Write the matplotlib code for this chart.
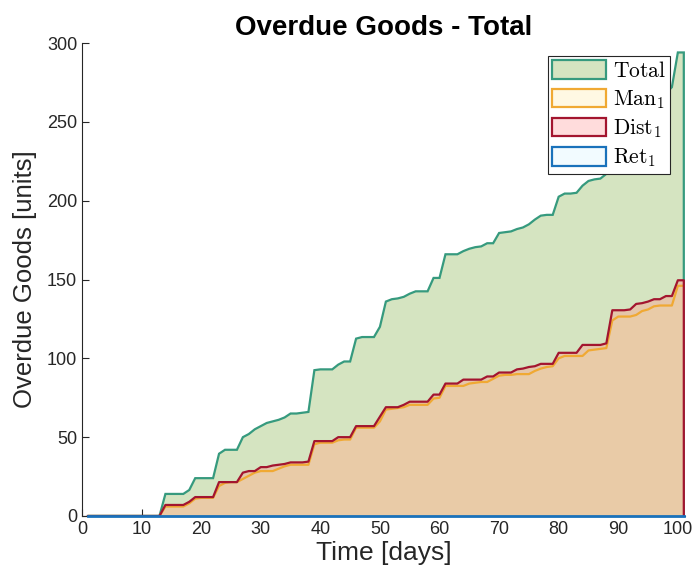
import matplotlib
matplotlib.use('Agg')
import matplotlib.pyplot as plt
from matplotlib.patches import Patch
import numpy as np

# days 1..101
days = np.arange(1, 102)

total = [0] * 13 + [
    14, 14, 14, 14, 16.5, 24, 24, 24, 24, 39.5,
    42, 42, 42, 50, 52, 55, 57, 59, 60, 61,
    62.5, 65, 65, 65.5, 66, 92.5, 93, 93, 93, 96,
    98, 98, 112.5, 113.5, 113.5, 113.5, 120, 136, 137.5, 138,
    139, 141, 142.5, 142.5, 142.5, 151, 151, 166, 166, 166,
    168, 169.5, 170.5, 171, 173, 173, 179.5, 180, 180.5, 182,
    183, 185, 188, 190.5, 191, 191, 202.5, 204.5, 204.5, 205,
    209.5, 212.5, 213.5, 214, 217, 222, 228, 233, 238, 243,
    248, 253, 258, 263, 268, 272, 294, 294,
]

dist = [0] * 13 + [
    7, 7, 7, 7, 9, 12, 12, 12, 12, 21.5,
    21.5, 21.5, 21.5, 27.5, 28.5, 28.5, 31, 31, 32, 32.5,
    33, 34, 34, 34, 34.5, 47.5, 47.5, 47.5, 47.5, 50,
    50, 50, 57, 57, 57, 57, 63, 69, 69, 69,
    70.5, 72.5, 72.5, 72.5, 72.5, 77, 77, 84, 84, 84,
    86.5, 86.5, 86.5, 86.5, 88.5, 88.5, 91, 91, 91, 93,
    93.5, 94.5, 95, 96.5, 96.5, 96.5, 103.5, 103.5, 103.5, 103.5,
    108.5, 108.5, 108.5, 108.5, 109.5, 130.5, 130.5, 130.5, 131, 134.5,
    135, 136, 137.5, 137.5, 139.5, 139.5, 149.5, 149.5,
]

man = [0] * 13 + [
    6, 6, 6, 6, 8, 11, 11.5, 11.5, 11.5, 19,
    21, 21.5, 21.5, 23.5, 25.5, 27.5, 28.5, 28.5, 28.5, 30,
    31.5, 32.5, 32.5, 32.5, 32.5, 45.5, 46.5, 46.5, 46.5, 48,
    48.5, 48.5, 56, 56, 56, 56, 60, 67.5, 68, 68.5,
    69, 70.5, 70.5, 70.5, 70.5, 74.5, 75, 82.5, 82.5, 82.5,
    82.5, 84, 84.5, 85, 85, 87, 89, 89.5, 89.5, 90,
    90, 90, 92, 93.5, 94.5, 95, 100, 101.5, 101.5, 101.5,
    101.5, 105, 105.5, 106, 106.5, 124, 126.5, 126.5, 126.5, 127.5,
    130, 131, 133, 133.5, 133.5, 133.5, 146, 146,
]

ret = [0] * len(days)

legend_labels = [r'$\mathrm{Total}$', r'$\mathrm{Man}_1$',
                 r'$\mathrm{Dist}_1$', r'$\mathrm{Ret}_1$']

plt.rcParams['font.family'] = ['Liberation Sans', 'DejaVu Sans']
plt.rcParams['mathtext.fontset'] = 'cm'

c_total = '#369a7e'
c_man = '#f0a933'
c_dist = '#a3152f'
c_ret = '#1a72bb'


def closed(x, y):
    # close the polygon down to the x axis at both ends
    return (np.concatenate([[x[0]], x, [x[-1]]]),
            np.concatenate([[0], y, [0]]))


fig = plt.figure(figsize=(6.97, 5.81), dpi=100)
ax = fig.add_axes([82 / 697, 65 / 581, 603 / 697, 473 / 581])

xt, yt = closed(days, np.array(total))
ax.fill(xt, yt, facecolor='#d5e4c1', edgecolor=c_total, lw=1.6, zorder=1)

xm, ym = closed(days, np.array(man))
ax.fill_between(days, man, dist, facecolor='#e5c6aa', lw=0, zorder=2)
ax.fill(xm, ym, facecolor='#e9cba7', edgecolor='none', zorder=2)
ax.plot(days, man, color=c_man, lw=1.6, zorder=3)

xd, yd = closed(days, np.array(dist))
ax.plot(xd[1:], yd[1:], color=c_dist, lw=1.6, zorder=4)

ax.plot(days, ret, color=c_ret, lw=2, zorder=5, clip_on=False)

ax.set_xlim(0, 101.2)
ax.set_ylim(0, 300)
ax.set_xticks(np.arange(0, 101, 10))
ax.set_yticks(np.arange(0, 301, 50))
ax.spines['top'].set_visible(False)
ax.spines['right'].set_visible(False)
for s in ('left', 'bottom'):
    ax.spines[s].set_color('#262626')
    ax.spines[s].set_linewidth(0.8)
ax.tick_params(direction='in', length=5, width=0.8, colors='#262626',
               labelsize=13, labelcolor='#262626')

ax.set_xlabel('Time [days]', fontsize=19, color='#262626', labelpad=2)
ax.set_ylabel('Overdue Goods [units]', fontsize=18.5, color='#262626',
              labelpad=7)
ax.set_title('Overdue Goods - Total', fontsize=20, fontweight='bold', pad=6)

handles = [
    Patch(facecolor='#d5e4c1', edgecolor=c_total, lw=1.6),
    Patch(facecolor='#fff8e3', edgecolor=c_man, lw=1.6),
    Patch(facecolor='#ffdcdc', edgecolor=c_dist, lw=1.6),
    Patch(facecolor='#f2fbff', edgecolor=c_ret, lw=1.6),
]
leg = ax.legend(handles, legend_labels, loc='upper right',
                bbox_to_anchor=(0.975, 0.9725), borderaxespad=0,
                fontsize=15.5, handlelength=2.5, handleheight=0.95,
                handletextpad=0.3, labelspacing=0.3, borderpad=0.2,
                fancybox=False, framealpha=1, edgecolor='#262626')
leg.get_frame().set_linewidth(0.8)

plt.savefig('out.png', dpi=100)
